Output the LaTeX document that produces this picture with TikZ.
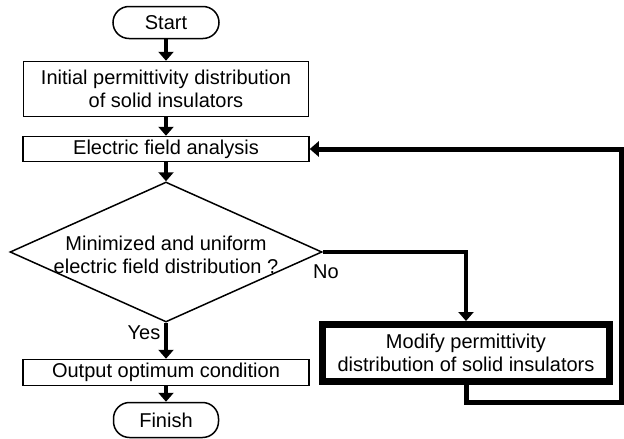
\documentclass[tikz,border=0pt]{standalone}
\usepackage{fontspec}
\setmainfont{Liberation Sans}
\usetikzlibrary{shapes.geometric,arrows.meta}
\begin{document}
\begin{tikzpicture}[x=1pt,y=-1pt,
  every node/.style={font=\fontsize{20}{23}\selectfont, inner sep=0pt},
  box/.style={draw, line width=1.5pt, rectangle, align=center},
  term/.style={draw, line width=1.5pt, rectangle, rounded corners=16pt},
  decision/.style={draw, line width=1.5pt, diamond},
  bold box/.style={draw, line width=7pt, rectangle, align=center},
  flow/.style={line width=4pt, line join=miter, -{Triangle[width=15pt,length=9pt]}},
  loopflow/.style={line width=5pt, line join=miter, -{Triangle[width=15pt,length=9pt]}}]

  % canvas
  \fill[white] (0,0) rectangle (624,439);
  \useasboundingbox (0,0) rectangle (624,439);

  % main column
  \node[term, minimum width=106pt, minimum height=32pt] (start) at (166,22.5) {Start};
  \node[box, minimum width=285pt, minimum height=55pt] (init) at (166,89)
    {Initial permittivity distribution\\of solid insulators};
  \node[box, minimum width=286pt, minimum height=25pt] (efa) at (166,149) {Electric field analysis};
  \node[decision, minimum width=312pt, minimum height=140pt] (dec) at (166,252) {};
  \node[align=center] (dectext) at (166,255)
    {Minimized and uniform\\electric field distribution ?};
  \node[box, minimum width=286pt, minimum height=26pt] (out) at (166,372.5) {Output optimum condition};
  \node[term, minimum width=105pt, minimum height=35pt] (finish) at (166,420) {Finish};

  % correction step
  \node[bold box, minimum width=287pt, minimum height=57pt] (mod) at (466,353)
    {Modify permittivity\\distribution of solid insulators};

  % branch labels
  \node (yes) at (144,333) {Yes};
  \node (no) at (326,272) {No};

  % connectors
  \draw[flow] (start) -- (init);
  \draw[flow] (init) -- (efa);
  \draw[flow] (efa) -- (dec.north);
  \draw[flow] (dec.south) -- (out);
  \draw[flow] (out) -- (finish);
  \draw[flow] (dec.east) -| (mod.north);
  \coordinate (lb) at (621,402);
  \draw[loopflow] (mod.south) -- (mod.south |- lb) -- (lb) -- (lb |- efa.east) -- (efa.east);
\end{tikzpicture}
\end{document}
